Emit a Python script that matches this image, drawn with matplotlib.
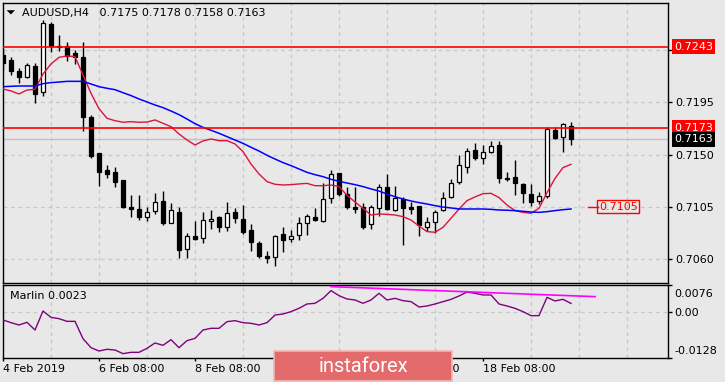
import matplotlib
matplotlib.use('Agg')
import matplotlib.pyplot as plt
import matplotlib.transforms as mtransforms
from matplotlib.patches import Polygon, Rectangle
import numpy as np

# AUDUSD H4 candles
opens = [0.72358, 0.72315, 0.72220, 0.72166, 0.72263, 0.72036, 0.72626, 0.72436, 0.72439, 0.72378,
         0.72341, 0.71826, 0.71513, 0.71364, 0.71346, 0.71280, 0.71044, 0.71027, 0.70964, 0.71016,
         0.71099, 0.70906, 0.71001, 0.70682, 0.70797, 0.70783, 0.70924, 0.70958, 0.70878, 0.71001,
         0.70941, 0.70849, 0.70734, 0.70625, 0.70619, 0.70812, 0.70774, 0.70806, 0.70912, 0.70958,
         0.70927, 0.71122, 0.71338, 0.71157, 0.71044, 0.71044, 0.70901, 0.71036, 0.71223, 0.71021,
         0.71116, 0.71044, 0.71056, 0.70878, 0.70921, 0.71021, 0.71136, 0.71266, 0.71395, 0.71539,
         0.71467, 0.71525, 0.71582, 0.71294, 0.71303, 0.71246, 0.71159, 0.71102, 0.71145, 0.71711,
         0.71654, 0.71750]
highs = [0.72401, 0.72338, 0.72243, 0.72292, 0.72286, 0.72660, 0.72646, 0.72531, 0.72473, 0.72401,
         0.72473, 0.71841, 0.71513, 0.71410, 0.71389, 0.71280, 0.71151, 0.71151, 0.71050, 0.71171,
         0.71185, 0.71079, 0.71050, 0.70820, 0.70927, 0.71001, 0.71021, 0.70972, 0.71087, 0.71036,
         0.71064, 0.70898, 0.70757, 0.70668, 0.70806, 0.70872, 0.70849, 0.70958, 0.70987, 0.71036,
         0.71251, 0.71366, 0.71338, 0.71223, 0.71223, 0.71079, 0.71064, 0.71246, 0.71332, 0.71228,
         0.71136, 0.71090, 0.71056, 0.70958, 0.71021, 0.71180, 0.71289, 0.71496, 0.71553, 0.71602,
         0.71582, 0.71617, 0.71617, 0.71346, 0.71453, 0.71257, 0.71246, 0.71180, 0.71740, 0.71740,
         0.71775, 0.71780]
lows = [0.72229, 0.72186, 0.72114, 0.72157, 0.71947, 0.72008, 0.72387, 0.72396, 0.72309, 0.72281,
        0.71706, 0.71467, 0.71231, 0.71294, 0.71223, 0.71042, 0.70964, 0.70935, 0.70929, 0.70987,
        0.70892, 0.70906, 0.70610, 0.70610, 0.70763, 0.70740, 0.70860, 0.70835, 0.70843, 0.70906,
        0.70814, 0.70671, 0.70605, 0.70561, 0.70541, 0.70662, 0.70748, 0.70763, 0.70806, 0.70929,
        0.70921, 0.71085, 0.71142, 0.71030, 0.70998, 0.70858, 0.70855, 0.70972, 0.71021, 0.71016,
        0.70720, 0.70987, 0.70800, 0.70840, 0.70826, 0.71013, 0.71128, 0.71246, 0.71343, 0.71453,
        0.71418, 0.71516, 0.71251, 0.71274, 0.71151, 0.71085, 0.71056, 0.71070, 0.71122, 0.71634,
        0.71525, 0.71580]
closes = [0.72292, 0.72223, 0.72171, 0.72272, 0.72022, 0.72631, 0.72439, 0.72430, 0.72350, 0.72344,
          0.71826, 0.71490, 0.71349, 0.71335, 0.71266, 0.71050, 0.71030, 0.70958, 0.71001, 0.71087,
          0.70912, 0.71019, 0.70676, 0.70800, 0.70771, 0.70935, 0.70944, 0.70872, 0.70993, 0.70955,
          0.70835, 0.70742, 0.70628, 0.70607, 0.70800, 0.70763, 0.70800, 0.70906, 0.70967, 0.70935,
          0.71113, 0.71329, 0.71157, 0.71044, 0.71030, 0.70878, 0.71044, 0.71223, 0.71030, 0.71122,
          0.71042, 0.71033, 0.70892, 0.70915, 0.71001, 0.71122, 0.71251, 0.71410, 0.71530, 0.71473,
          0.71519, 0.71573, 0.71300, 0.71289, 0.71251, 0.71165, 0.71093, 0.71142, 0.71720, 0.71645,
          0.71760, 0.71630]

red_ma = [0.72065, 0.72048, 0.72022, 0.72056, 0.72062, 0.72194, 0.72281, 0.72338, 0.72350, 0.72344,
          0.72186, 0.72028, 0.71895, 0.71812, 0.71792, 0.71778, 0.71783, 0.71778, 0.71780, 0.71798,
          0.71769, 0.71740, 0.71677, 0.71625, 0.71582, 0.71617, 0.71634, 0.71619, 0.71619, 0.71591,
          0.71525, 0.71418, 0.71332, 0.71266, 0.71243, 0.71237, 0.71240, 0.71246, 0.71251, 0.71231,
          0.71231, 0.71237, 0.71223, 0.71148, 0.71090, 0.71036, 0.70978, 0.70987, 0.70984, 0.70978,
          0.70964, 0.70935, 0.70883, 0.70835, 0.70829, 0.70872, 0.70950, 0.71030, 0.71102, 0.71134,
          0.71162, 0.71165, 0.71128, 0.71064, 0.71016, 0.71001, 0.70993, 0.71036, 0.71171, 0.71294,
          0.71387, 0.71415]
blue_ma = [0.72085, 0.72088, 0.72091, 0.72091, 0.72091, 0.72111, 0.72120, 0.72125, 0.72131, 0.72131,
           0.72131, 0.72108, 0.72085, 0.72071, 0.72059, 0.72033, 0.72008, 0.71979, 0.71953, 0.71927,
           0.71904, 0.71875, 0.71844, 0.71806, 0.71766, 0.71734, 0.71709, 0.71683, 0.71654, 0.71625,
           0.71596, 0.71562, 0.71530, 0.71493, 0.71461, 0.71430, 0.71404, 0.71375, 0.71346, 0.71326,
           0.71309, 0.71286, 0.71269, 0.71254, 0.71240, 0.71223, 0.71203, 0.71185, 0.71159, 0.71136,
           0.71116, 0.71099, 0.71085, 0.71073, 0.71059, 0.71047, 0.71039, 0.71030, 0.71030, 0.71030,
           0.71030, 0.71027, 0.71021, 0.71019, 0.71016, 0.71010, 0.71004, 0.71001, 0.71007, 0.71016,
           0.71024, 0.71030]

marlin = [-0.00232, -0.00307, -0.00372, -0.00297, -0.00512, 0.00019, -0.00158, -0.00195, -0.00270, -0.00270,
          -0.00754, -0.01006, -0.01099, -0.01052, -0.01071, -0.01173, -0.01136, -0.01136, -0.01024, -0.00875,
          -0.00940, -0.00782, -0.01006, -0.00810, -0.00745, -0.00512, -0.00465, -0.00465, -0.00279, -0.00251,
          -0.00307, -0.00325, -0.00372, -0.00307, -0.00093, -0.00065, 0.00001, 0.00094, 0.00215, 0.00234,
          0.00373, 0.00588, 0.00448, 0.00355, 0.00327, 0.00234, 0.00327, 0.00513, 0.00327, 0.00373,
          0.00308, 0.00280, 0.00131, 0.00159, 0.00215, 0.00280, 0.00345, 0.00439, 0.00550, 0.00513,
          0.00467, 0.00467, 0.00215, 0.00159, 0.00094, 0.00001, -0.00111, -0.00111, 0.00401, 0.00299,
          0.00345, 0.00230]
marlin_trend_idx = [41, 74]
marlin_trend = [0.00700, 0.00420]

levels = [0.7243, 0.7173]
bid = 0.7163
target = 0.7105
price_ticks = [0.7060, 0.7105, 0.7150, 0.7195, 0.7240]
price_tick_labels = ['0.7060', '0.7105', '0.7150', '0.7195', '']
date_idx = [0, 12, 24, 36, 48, 60]
date_labels = ['4 Feb 2019', '6 Feb 08:00', '8 Feb 08:00', '12 Feb 08:00', '14 Feb 08:00', '18 Feb 08:00']

BG = '#E8E8E8'
GRID = '#C8C8C8'
W, H = 725, 382
plt.rcParams['font.family'] = 'DejaVu Sans'
plt.rcParams['font.size'] = 8

fig = plt.figure(figsize=(W / 100, H / 100), dpi=100, facecolor=BG)


def px_axes(x0, y0, x1, y1):
    a = fig.add_axes([x0 / W, 1 - y1 / H, (x1 - x0) / W, (y1 - y0) / H])
    a.set_facecolor(BG)
    for s in a.spines.values():
        s.set_color('black')
        s.set_linewidth(1.0)
    return a


ax = px_axes(2.5, 2.5, 668.3, 282.5)
ax2 = px_axes(2.5, 284.7, 668.3, 358.3)
xlim = (-0.0625, 83.16)

# --- main price panel
idx = np.arange(len(opens))
o, h, l, c = (np.array(v) for v in (opens, highs, lows, closes))
up = c >= o
body_lo = np.minimum(o, c)
body_h = np.maximum(np.abs(c - o), 0.00009)
ax.vlines(idx, l, h, color='black', lw=1.0, zorder=3)
ax.bar(idx, body_h, bottom=body_lo, width=0.5, color=np.where(up, 'white', 'black'),
       edgecolor='black', linewidth=0.9, zorder=4)

ax.plot(idx, red_ma, color='#DC143C', lw=1.0, zorder=5)
ax.plot(idx, blue_ma, color='#0000FF', lw=1.1, zorder=5)
for lv in levels:
    ax.axhline(lv, color='#FF0000', lw=1.2, zorder=6)
ax.axhline(bid, color='#C0C0C0', lw=1.0, zorder=1.5)

ax.set_xlim(*xlim)
ax.set_ylim(0.70396, 0.72811)
ax.set_xticks(range(6, 84, 6))
ax.set_yticks(price_ticks)
ax.set_yticklabels(price_tick_labels)
ax.yaxis.tick_right()
ax.tick_params(axis='x', length=0, labelbottom=False)
ax.tick_params(axis='y', length=3, width=1, pad=2, labelsize=8, colors='black')
ax.grid(True, linestyle=(0, (3, 3)), color=GRID, lw=0.9, zorder=0)
ax.set_axisbelow(True)

bt = mtransforms.blended_transform_factory(ax.transAxes, ax.transData)
for val, fc in [(0.7243, '#FF0000'), (0.7173, '#FF0000'), (0.7163, 'black')]:
    ax.text(1.0085, val, f'{val:.4f}', transform=bt, va='center', ha='left', color='white',
            fontsize=8, zorder=10, clip_on=False,
            bbox=dict(boxstyle='square,pad=0.22', fc=fc, ec='none'))

# target label
ax.plot([73.1, 74.4], [target, target], color='#FF0000', lw=1.0, clip_on=False)
ax.text(76.9, target, f'{target:.4f}', va='center', ha='center', color='#FF0000', fontsize=8,
        bbox=dict(boxstyle='square,pad=0.15', fc='none', ec='#FF0000', lw=1.0))

# title
fig.text(21.7 / W, 1 - 12.7 / H, 'AUDUSD,H4   0.7175 0.7178 0.7158 0.7163', va='center',
         ha='left', fontsize=8, color='black')
tri = Polygon([(6.7 / W, 1 - 10.2 / H), (15 / W, 1 - 10.2 / H), (10.85 / W, 1 - 14.5 / H)],
              closed=True, transform=fig.transFigure, fc='black', ec='none')
fig.add_artist(tri)

# --- Marlin panel
ax2.plot(idx, marlin, color='#800080', lw=1.0, zorder=4)
ax2.plot(marlin_trend_idx, marlin_trend, color='#FF00FF', lw=1.2, zorder=4)
ax2.axhline(0, color=GRID, lw=0.9, linestyle=(0, (3, 3)), zorder=0)
ax2.set_xlim(*xlim)
ax2.set_ylim(-0.01303, 0.00754)
ax2.set_xticks(date_idx)
ax2.set_xticklabels(date_labels)
for lab in ax2.get_xticklabels():
    lab.set_ha('left')
ax2.set_xticks(range(6, 84, 6), minor=True)
ax2.tick_params(axis='x', which='major', length=2.5, width=1, pad=1.5, labelsize=8, colors='black')
ax2.tick_params(axis='x', which='minor', length=0)
ax2.grid(True, which='minor', axis='x', linestyle=(0, (3, 3)), color=GRID, lw=0.9)
ax2.set_axisbelow(True)
ax2.yaxis.tick_right()
ax2.set_yticks([0.00754, 0.0, -0.01303])
ax2.set_yticklabels([])
ax2.tick_params(axis='y', length=3, width=1)
bt2 = mtransforms.blended_transform_factory(ax2.transAxes, ax2.transData)
for val, txt, dy in [(0.00754, '0.0076', -7.0), (0.0, '0.00', -1.1), (-0.01303, '-0.0128', 5.5)]:
    ax2.annotate(txt, xy=(1.0, val), xycoords=bt2, xytext=(4.6, dy), textcoords='offset points',
                 va='center', ha='left', fontsize=8, color='black', annotation_clip=False)
ax2.text(7.3 / 665.8, 0.84, 'Marlin 0.0023', transform=ax2.transAxes, va='center', ha='left',
         fontsize=8, color='black')

# watermark
wm = Rectangle((274 / W, 1 - 381 / H), 178 / W, 30 / H, transform=fig.transFigure,
               fc='#E36B6B', ec='#F2B5B5', lw=1.2, zorder=20)
fig.add_artist(wm)
fig.text(363 / W, 1 - 366 / H, 'instaforex', ha='center', va='center', color='white',
         fontsize=14.5, family=['Roboto', 'DejaVu Sans'], zorder=21)

fig.savefig('out.png', dpi=100, facecolor=BG)
